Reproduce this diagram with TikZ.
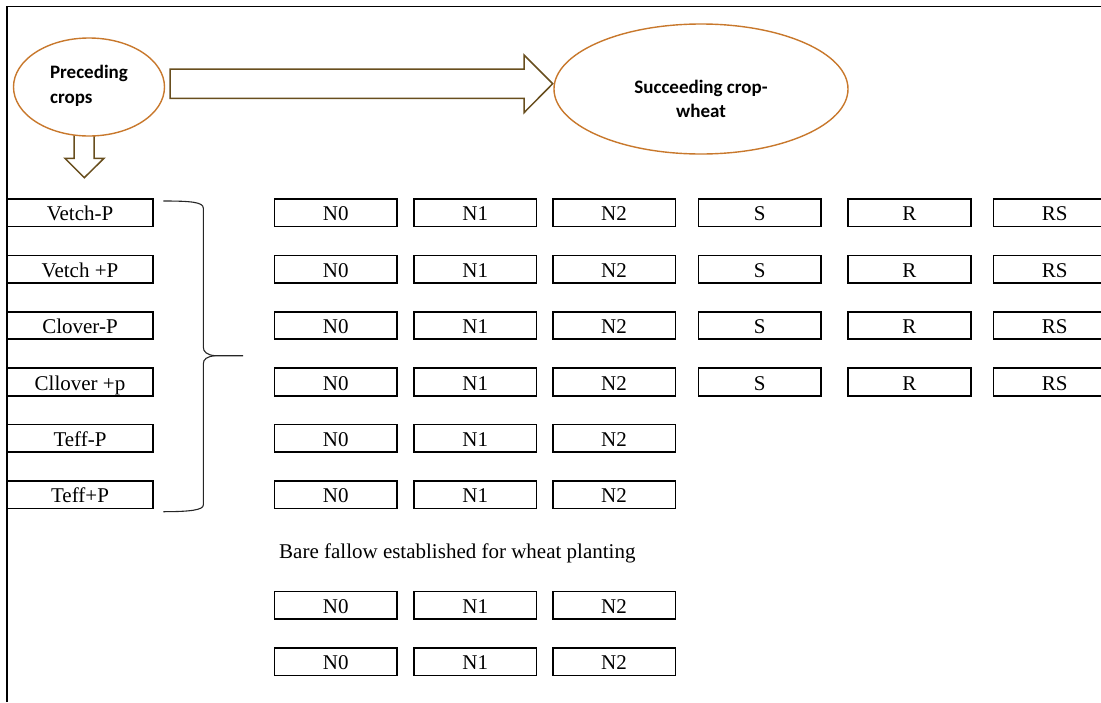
\documentclass[tikz,border=0pt]{standalone}
\usepackage{fontspec}
\setmainfont{Liberation Serif}
\newfontfamily\labelsans{Carlito}
\usetikzlibrary{shapes.geometric,calc}

\definecolor{ovalline}{RGB}{200,120,44}
\definecolor{arrowline}{RGB}{104,78,30}

\tikzset{
  frameline/.style={line width=1.2pt, black},
  cell/.style={draw, line width=1.7pt, minimum height=27.5pt, inner sep=0pt,
               text height=16.5pt, text depth=0pt,
               font=\fontsize{21}{24}\selectfont, anchor=center},
  cropbox/.style={cell, minimum width=145.4pt},
  trtbox/.style={cell, minimum width=122.7pt},
  oval/.style={ellipse, draw=ovalline, line width=1.4pt, fill=white, inner sep=0pt},
  ovaltext/.style={font=\labelsans\bfseries\fontsize{19}{24.5}\selectfont, inner sep=0pt},
  blockarrow/.style={draw=arrowline, line width=1.5pt, fill=white, line join=miter},
  bracket/.style={draw=black!85, line width=1.1pt},
}

\begin{document}
\begin{tikzpicture}[x=1pt, y=-1pt]
  \useasboundingbox (0,0) rectangle (1101,702);
  \clip (0,0) rectangle (1101,702);

  % outer frame (top and left edges)
  \draw[frameline] (7,702) -- (7,6.7) -- (1101,6.7);

  % block arrows
  \draw[blockarrow] (74,132) -- (94,132) -- (94,158.3) -- (104,158.3)
        -- (84.3,177.7) -- (65,158.3) -- (74,158.3) -- cycle;
  \draw[blockarrow] (170,69) -- (524,69) -- (524,55) -- (552.7,83.7)
        -- (524,112.7) -- (524,98.3) -- (170,98.3) -- cycle;

  % ovals
  \node[oval, minimum width=151pt, minimum height=98pt] (pre) at (89,87) {};
  \node[ovaltext, align=left] (pretxt) at ($(pre.center)+(0,-1)$) {Preceding\\crops};
  \node[oval, minimum width=294pt, minimum height=130pt] (suc) at (701,89) {};
  \node[ovaltext, align=center] (suctxt) at ($(suc.center)+(0,10)$) {Succeeding crop-\\wheat};

  % preceding crop treatments
  \foreach \name [count=\i] in {Vetch-P, Vetch +P, Clover-P, Cllover +p, Teff-P, Teff+P} {
    \node[cropbox] (crop\i) at (80, {212.7 + 56.4*(\i-1)}) {\name};
  }

  % nitrogen levels for every preceding crop
  \foreach \i in {1,...,6} {
    \node[trtbox] (n0r\i) at (335.7, {212.7 + 56.4*(\i-1)}) {N0};
    \node[trtbox] (n1r\i) at (475.2, {212.7 + 56.4*(\i-1)}) {N1};
    \node[trtbox] (n2r\i) at (614.0, {212.7 + 56.4*(\i-1)}) {N2};
  }

  % residue treatments for the legume rows
  \foreach \i in {1,...,4} {
    \node[trtbox] (sr\i)  at (759.7,  {212.7 + 56.4*(\i-1)}) {S};
    \node[trtbox] (rr\i)  at (909.3,  {212.7 + 56.4*(\i-1)}) {R};
    \node[trtbox] (rsr\i) at (1054.8, {212.7 + 56.4*(\i-1)}) {RS};
  }

  % brace grouping the preceding crops
  \draw[bracket] (163.3,201) .. controls (190,201) and (203.3,202) .. (203.3,208)
        -- (203.3,347) .. controls (203.3,352) and (207,354.9) .. (215,355.7)
        -- (243,355.7);
  \draw[bracket] (215,355.7) .. controls (207,356.5) and (203.3,359) .. (203.3,364)
        -- (203.3,505) .. controls (203.3,510) and (190,511.7) .. (163.3,511.7);

  % bare fallow control
  \node[anchor=base west, inner sep=0pt, font=\fontsize{21}{24}\selectfont] (fallow)
        at (279,558.5) {Bare fallow established for wheat planting};
  \foreach \y [count=\j] in {605.3, 661.7} {
    \node[trtbox] (fn0r\j) at (335.7, \y) {N0};
    \node[trtbox] (fn1r\j) at (475.2, \y) {N1};
    \node[trtbox] (fn2r\j) at (614.0, \y) {N2};
  }
\end{tikzpicture}
\end{document}
